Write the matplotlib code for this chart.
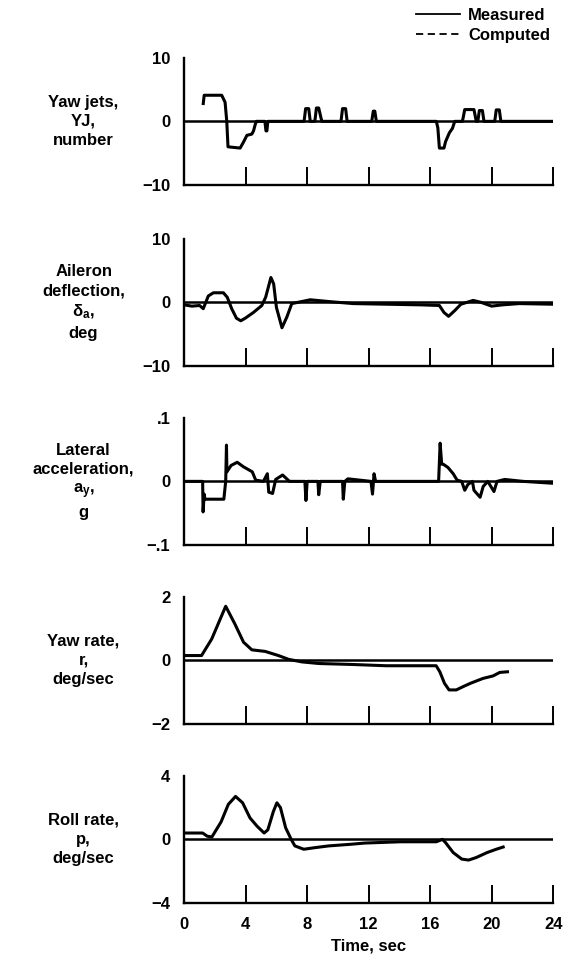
import matplotlib.pyplot as plt
from matplotlib.lines import Line2D

plt.rcParams['font.family'] = ['Liberation Sans', 'DejaVu Sans']
plt.rcParams['font.weight'] = 'bold'
plt.rcParams['mathtext.fontset'] = 'custom'
plt.rcParams['mathtext.rm'] = 'Liberation Sans:bold'
plt.rcParams['mathtext.it'] = 'Liberation Sans:bold'
plt.rcParams['mathtext.bf'] = 'Liberation Sans:bold'
plt.rcParams['mathtext.default'] = 'bf'

# Datos (tiempo en seg)
t_yj = [1.24, 1.3, 1.5, 2.44, 2.66, 2.77, 2.85, 3.64, 3.86, 4.08, 4.4, 4.51, 4.62, 4.7,
        5.25, 5.32, 5.38, 5.44, 5.5,
        7.8, 7.9, 8.1, 8.2, 8.5, 8.6, 8.75, 8.95, 9.05,
        10.2, 10.3, 10.5, 10.6, 12.2, 12.3, 12.4, 12.5,
        16.4, 16.5, 16.6, 16.9, 17.0, 17.25, 17.45, 17.6,
        18.1, 18.25, 18.85, 19.0, 19.1, 19.2, 19.4, 19.5,
        20.2, 20.3, 20.5, 20.6, 24.0]
yj = [2.8, 4.1, 4.1, 4.1, 3.0, 0.0, -4.0, -4.2, -3.25, -2.2, -2.0, -1.5, -0.5, 0.0,
      0.0, -1.5, -1.5, 0.0, 0.0,
      0.0, 2.0, 2.0, 0.0, 0.0, 2.1, 2.1, 0.0, 0.0,
      0.0, 2.0, 2.0, 0.0, 0.0, 1.6, 1.6, 0.0,
      0.0, -1.0, -4.2, -4.2, -3.2, -1.8, -1.1, 0.0,
      0.0, 1.85, 1.85, 0.0, 0.0, 1.7, 1.7, 0.0,
      0.0, 1.8, 1.8, 0.0, 0.0]

t_ail = [0.0, 0.5, 1.0, 1.24, 1.57, 1.9, 2.55, 2.8, 3.09, 3.4, 3.68, 3.97, 4.5, 5.05,
         5.3, 5.64, 5.82, 6.0, 6.36, 6.68, 7.0, 8.2, 9.5, 11.0, 13.2, 15.4, 16.6, 16.9,
         17.2, 17.6, 18.0, 18.8, 19.3, 20.0, 20.7, 21.8, 24.0]
ail = [-0.4, -0.6, -0.5, -1.0, 1.0, 1.5, 1.5, 0.8, -1.0, -2.5, -2.9, -2.5, -1.6, -0.5,
       0.8, 3.9, 2.9, -0.8, -4.0, -2.3, -0.2, 0.4, 0.1, -0.2, -0.3, -0.4, -0.5, -1.6,
       -2.2, -1.3, -0.3, 0.3, 0.0, -0.6, -0.4, -0.2, -0.3]

t_ay = [0.0, 1.2, 1.23, 1.3, 1.35, 1.95, 2.58, 2.7, 2.75, 2.78, 3.05, 3.45, 3.85, 4.43,
        4.65, 5.15, 5.41, 5.5, 5.75, 5.95, 6.4, 6.85, 7.85, 7.92, 8.0, 8.7, 8.75, 8.85,
        10.3, 10.35, 10.45, 10.65, 12.15, 12.25, 12.35, 12.45, 12.75, 16.55, 16.65,
        16.75, 16.85, 17.15, 17.5, 17.75, 18.05, 18.25, 18.45, 18.75, 18.85, 19.25,
        19.45, 19.75, 20.15, 20.35, 20.85, 22.05, 24.0]
ay = [0.0, 0.0, -0.048, -0.02, -0.028, -0.028, -0.028, 0.0, 0.057, 0.015, 0.025, 0.03,
      0.023, 0.015, 0.002, 0.0, 0.012, -0.017, -0.019, 0.003, 0.01, 0.0, 0.0, -0.03,
      0.0, 0.0, -0.021, 0.0, 0.0, -0.028, 0.0, 0.004, 0.0, -0.02, 0.012, 0.0, 0.0, 0.0,
      0.06, 0.027, 0.027, 0.022, 0.012, 0.002, 0.0, -0.014, -0.005, 0.0, -0.014, -0.025,
      -0.008, 0.0, -0.016, 0.0, 0.003, 0.0, -0.003]

t_r = [0.0, 1.13, 1.79, 2.7, 3.31, 3.86, 4.4, 5.27, 6.13, 6.8, 7.67, 8.76, 10.93, 13.13,
       16.39, 16.63, 16.93, 17.23, 17.7, 18.13, 18.63, 19.43, 20.09, 20.53, 21.03]
r = [0.15, 0.15, 0.67, 1.7, 1.13, 0.57, 0.33, 0.28, 0.15, 0.03, -0.05, -0.1, -0.13, -0.17,
     -0.17, -0.36, -0.72, -0.93, -0.93, -0.83, -0.72, -0.57, -0.49, -0.38, -0.36]

t_p = [0.0, 1.2, 1.5, 1.8, 2.4, 2.87, 3.34, 3.8, 4.28, 4.74, 5.2, 5.44, 5.8, 6.03, 6.26,
       6.6, 6.96, 7.2, 7.78, 8.5, 9.4, 10.8, 11.75, 14.1, 16.4, 16.8, 17.0, 17.5, 18.06,
       18.5, 19.0, 19.7, 20.3, 20.75]
p = [0.4, 0.4, 0.2, 0.15, 1.1, 2.2, 2.7, 2.3, 1.35, 0.83, 0.4, 0.6, 1.75, 2.3, 2.0,
     0.73, 0.0, -0.41, -0.62, -0.52, -0.41, -0.31, -0.23, -0.15, -0.15, 0.0, -0.2, -0.83,
     -1.24, -1.3, -1.14, -0.83, -0.62, -0.48]

series = [(t_yj, yj), (t_ail, ail), (t_ay, ay), (t_r, r), (t_p, p)]
limits = [10, 10, 0.1, 2, 4]
ytick_labels = [['\u221210', '0', '10'], ['\u221210', '0', '10'], ['\u2212.1', '0', '.1'],
                ['\u22122', '0', '2'], ['\u22124', '0', '4']]
names = ['Yaw jets,\nYJ,\nnumber',
         'Aileron\ndeflection,\n$\\delta_a$,\ndeg',
         'Lateral\nacceleration,\n$a_y$,\ng',
         'Yaw rate,\nr,\ndeg/sec',
         'Roll rate,\np,\ndeg/sec']
xticks = [0, 4, 8, 12, 16, 20, 24]

# posiciones de los paneles (fraccion de figura, borde inferior)
bottoms = [0.8067, 0.6176, 0.4305, 0.2435, 0.0564]
height = 0.133

fig = plt.figure(figsize=(5.65, 9.57), dpi=100)

for i in range(5):
    ax = fig.add_axes([0.326, bottoms[i], 0.653, height])
    t, y = series[i]
    lim = limits[i]
    ax.axhline(0, color='black', lw=1.8)
    ax.plot(t, y, color='black', lw=2.2)
    ax.set_xlim(0, 24)
    ax.set_ylim(-lim, lim)
    for s in ['top', 'right']:
        ax.spines[s].set_visible(False)
    for s in ['left', 'bottom']:
        ax.spines[s].set_linewidth(1.7)
    ax.set_yticks([-lim, 0, lim])
    ax.set_yticklabels(ytick_labels[i], fontsize=12, fontweight='bold')
    ax.tick_params(axis='y', length=0, pad=10)
    # pequeña marca horizontal arriba del eje
    ax.set_yticks([lim], minor=True)
    ax.tick_params(axis='y', which='minor', direction='in', length=14, width=1.6)
    ax.set_xticks(xticks)
    ax.tick_params(axis='x', direction='in', length=13, width=1.4, pad=10)
    if i < 4:
        ax.set_xticklabels([])
    else:
        ax.set_xticklabels([str(v) for v in xticks], fontsize=12, fontweight='bold')
        ax.set_xlabel('Time, sec', fontsize=12, fontweight='bold', labelpad=5)
    # etiqueta del panel a la izquierda, centrada en la linea cero
    y0 = bottoms[i] + height / 2
    fig.text(0.148, y0, names[i], ha='center', va='center', fontsize=12,
             fontweight='bold', linespacing=1.35)

handles = [Line2D([], [], color='black', lw=1.3),
           Line2D([], [], color='black', lw=1.3, ls=(0, (4, 2.5)))]
fig.legend(handles, ['Measured', 'Computed'], loc='upper right',
           bbox_to_anchor=(1.0, 1.007), frameon=False, handlelength=2.6,
           handletextpad=0.5, labelspacing=0.3,
           prop={'size': 12, 'weight': 'bold'})

fig.savefig('out.png', dpi=100)
